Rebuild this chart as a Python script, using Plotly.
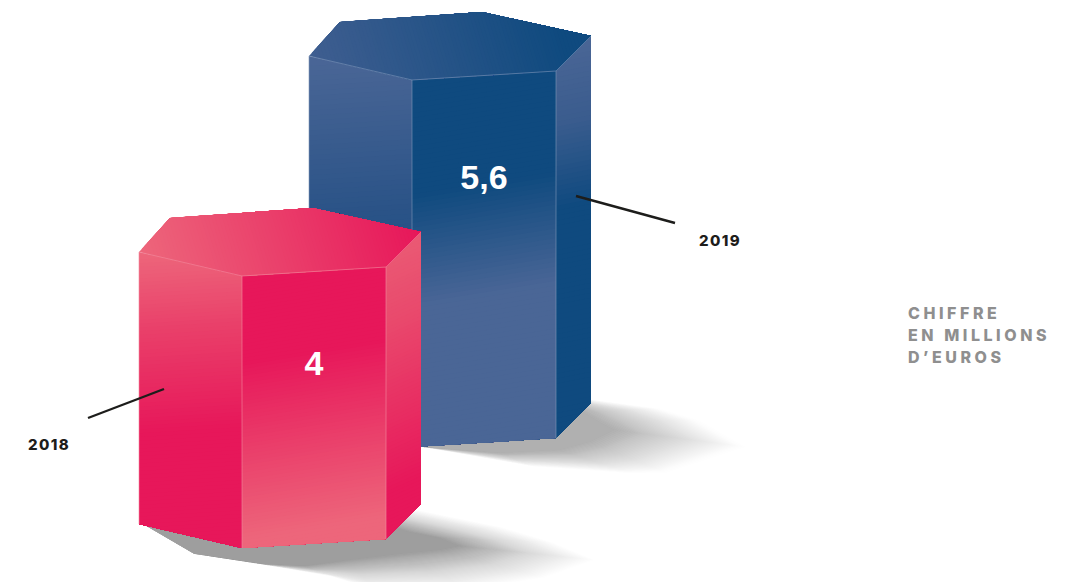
import plotly.graph_objects as go

# Chart data
years = ["2018", "2019"]
revenue = [4, 5.6]
unit_title = ["CHIFFRE", "EN MILLIONS", "D’EUROS"]

# Linear height scale shared by both columns
PX_PER_UNIT = 59.375
BASE_VALUE = -0.581
ZERO_PX = 513.5
WIDTH, HEIGHT = 1080, 582

PINK_LIGHT, PINK_MID, PINK = "#ED667B", "#E93E69", "#E7175A"
BLUE_LIGHT, BLUE_MID, BLUE = "#4A6696", "#2A5387", "#0F4A7F"

# Hexagonal footprint: offsets of the other corners from the front-left one
A, B, C, D, E = (-103, 24), (-72, 58), (70, 68), (179, 44), (144, 9)

# Placement and styling of each column
front_x = [242, 412]
lift_px = [0, 101]
label_drop_px = [90, 100]
edge_colour = ["#F48CA0", "#7F97BB"]

ramps = [
    {
        "top": ((1, 0.3), [(0, PINK_LIGHT), (1, PINK)]),
        "left": ((0.06, -1), [(0, PINK_LIGHT), (0.27, PINK_MID), (0.6, PINK), (1, PINK)]),
        "front": ((0.16, -1), [(0, PINK), (0.3, PINK), (0.93, PINK_LIGHT), (1, PINK_LIGHT)]),
        "right": ((0.4, -0.9), [(0, "#EA5A74"), (0.25, "#E94A6D"), (0.85, PINK), (1, PINK)]),
    },
    {
        "top": ((1, 0.3), [(0, "#3F5E90"), (0.9, BLUE), (1, BLUE)]),
        "left": ((0.06, -1), [(0, BLUE_LIGHT), (0.4, BLUE_MID), (1, BLUE)]),
        "front": ((0.16, -1), [(0, BLUE), (0.3, BLUE), (0.6, BLUE_LIGHT), (1, BLUE_LIGHT)]),
        "right": ((0.2, -1), [(0, BLUE_LIGHT), (0.2, "#3A5C8E"), (0.42, BLUE), (1, BLUE)]),
    },
]

# Ground shadows: outer outline and darker core with matching vertices
shadows = [
    {
        "outer": [(146, 526), (194, 554), (270, 566), (333, 577), (373, 590), (470, 590), (545, 578),
                  (596, 560), (553, 542), (503, 527), (420, 510), (330, 505)],
        "core": [(146, 526), (194, 554), (262, 564), (305, 566), (350, 560), (400, 554), (440, 550),
                 (460, 546), (440, 538), (410, 532), (385, 525), (330, 505)],
        "alpha": 0.43,
    },
    {
        "outer": [(421, 447), (533, 467), (633, 474), (667, 473), (747, 447), (700, 420),
                  (660, 408), (592, 399), (540, 400)],
        "core": [(421, 447), (500, 453), (560, 450), (590, 442), (615, 430), (600, 422),
                 (585, 413), (575, 406), (540, 400)],
        "alpha": 0.35,
    },
]

leader_x = [[88, 164], [576, 675]]
leader_px = [[418, 389], [196, 223]]
year_pos = [(49, 446), (720, 242)]
unit_x = 908
unit_px = [315, 337, 359]


def axis_y(px):
    """Convert a vertical screen offset to the value axis."""
    return (ZERO_PX - px) / PX_PER_UNIT


def clip(poly, nx, ny, level):
    """Keep the part of a polygon whose projection on (nx, ny) is at least level."""
    out = []
    for i, (x0, y0) in enumerate(poly):
        x1, y1 = poly[(i + 1) % len(poly)]
        d0 = x0 * nx + y0 * PX_PER_UNIT * ny - level
        d1 = x1 * nx + y1 * PX_PER_UNIT * ny - level
        if d0 >= 0:
            out.append((x0, y0))
        if (d0 >= 0) != (d1 >= 0):
            t = d0 / (d0 - d1)
            out.append((x0 + t * (x1 - x0), y0 + t * (y1 - y0)))
    return out


def mix(stops, t):
    for (t0, c0), (t1, c1) in zip(stops, stops[1:]):
        if t <= t1:
            u = 0 if t1 == t0 else (t - t0) / (t1 - t0)
            a = [int(c0[i:i + 2], 16) for i in (1, 3, 5)]
            b = [int(c1[i:i + 2], 16) for i in (1, 3, 5)]
            return "rgb({},{},{})".format(*[round(p + (q - p) * u) for p, q in zip(a, b)])
    return stops[-1][1]


def add_poly(fig, poly, colour):
    xs, ys = zip(*poly)
    fig.add_trace(go.Scatter(x=list(xs) + [xs[0]], y=list(ys) + [ys[0]], mode="lines",
                             line=dict(width=0), fill="toself", fillcolor=colour,
                             hoverinfo="skip", showlegend=False))


def shade_face(fig, poly, ramp, bands=80):
    """Paint a face with a slanted colour ramp as overlapping bands."""
    (nx, ny), stops = ramp
    proj = [x * nx + y * PX_PER_UNIT * ny for x, y in poly]
    low, high = min(proj), max(proj)
    for i in range(bands):
        t = i / (bands - 1)
        part = clip(poly, nx, ny, low + (high - low) * i / bands)
        if len(part) >= 3:
            add_poly(fig, part, mix(stops, t))


def add_edge(fig, a, b, colour, width=0.6):
    fig.add_trace(go.Scatter(x=[a[0], b[0]], y=[a[1], b[1]], mode="lines",
                             line=dict(color=colour, width=width),
                             hoverinfo="skip", showlegend=False))


def add_shadow(fig, shadow, layers=40):
    previous = 0.0
    for i in range(layers):
        u = i / (layers - 1)
        # Opacity builds up slowly at the rim, so the outline melts into the page
        target = shadow["alpha"] * ((i + 1) / layers) ** 1.25
        step = 1 - (1 - target) / (1 - previous)
        previous = target
        poly = [(ox + (cx - ox) * u, axis_y(oy + (cy - oy) * u))
                for (ox, oy), (cx, cy) in zip(shadow["outer"], shadow["core"])]
        add_poly(fig, poly, f"rgba(60,60,60,{step:.4f})")


def add_column(fig, i):
    lift = lift_px[i] / PX_PER_UNIT
    top = revenue[i] + lift
    base = BASE_VALUE + lift
    fx = front_x[i]

    def corner(offset, level):
        return (fx + offset[0], level + offset[1] / PX_PER_UNIT)

    F_t, F_b = (fx, top), (fx, base)
    A_t, A_b = corner(A, top), corner(A, base)
    B_t, C_t = corner(B, top), corner(C, top)
    D_t, D_b = corner(D, top), corner(D, base)
    E_t, E_b = corner(E, top), corner(E, base)

    shade_face(fig, [A_t, F_t, F_b, A_b], ramps[i]["left"])
    shade_face(fig, [F_t, E_t, E_b, F_b], ramps[i]["front"])
    shade_face(fig, [E_t, D_t, D_b, E_b], ramps[i]["right"])
    shade_face(fig, [A_t, B_t, C_t, D_t, E_t, F_t], ramps[i]["top"])

    for a, b in [(A_t, F_t), (F_t, E_t), (E_t, D_t), (F_t, F_b), (E_t, E_b), (A_t, A_b)]:
        add_edge(fig, a, b, edge_colour[i])


fig = go.Figure()

for shadow in shadows:
    add_shadow(fig, shadow)

# The later year stands behind, so it is drawn first
for i in (1, 0):
    add_column(fig, i)

for xs, pys in zip(leader_x, leader_px):
    fig.add_trace(go.Scatter(x=xs, y=[axis_y(p) for p in pys], mode="lines",
                             line=dict(color="#1D1D1B", width=2.4),
                             hoverinfo="skip", showlegend=False))

# Value printed on each front face
for i, v in enumerate(revenue):
    centre_x = front_x[i] + E[0] / 2
    centre_y = axis_y(ZERO_PX - (v + lift_px[i] / PX_PER_UNIT) * PX_PER_UNIT + label_drop_px[i])
    fig.add_trace(go.Scatter(x=[centre_x], y=[centre_y], mode="text",
                             text=[f"{v:g}".replace(".", ",")], textposition="middle center",
                             textfont=dict(family="Liberation Sans", size=34, color="white", weight=700),
                             cliponaxis=False, hoverinfo="skip", showlegend=False))

for year, (x, py) in zip(years, year_pos):
    fig.add_trace(go.Scatter(x=[x], y=[axis_y(py)], mode="text", text=[year],
                             textposition="middle center",
                             textfont=dict(family="Inter", size=15, color="#1D1D1B", weight=800),
                             cliponaxis=False, hoverinfo="skip", showlegend=False))

fig.add_trace(go.Scatter(x=[unit_x] * 3, y=[axis_y(p) for p in unit_px], mode="text", text=unit_title,
                         textposition="middle right",
                         textfont=dict(family="Inter", size=16, color="#8F8F8F", weight=800),
                         cliponaxis=False, hoverinfo="skip", showlegend=False))

fig.update_layout(
    width=WIDTH, height=HEIGHT, autosize=False,
    margin=dict(l=0, r=0, t=0, b=0, pad=0),
    paper_bgcolor="white", plot_bgcolor="white", showlegend=False,
    xaxis=dict(range=[0, WIDTH], visible=False, fixedrange=True),
    yaxis=dict(range=[axis_y(HEIGHT), axis_y(0)], visible=False, fixedrange=True),
)

# Tracked-out captions
tracking = """
var gd = document.getElementById('{plot_id}');
gd.querySelectorAll('.textpoint text').forEach(function (t) {
  var s = t.textContent;
  if (/^20/.test(s)) { t.style.letterSpacing = '1.4px'; }
  else if (/[A-Z]/.test(s)) { t.style.letterSpacing = '3.55px'; }
});
"""
fig.write_html("out.html", post_script=tracking, config={"displayModeBar": False})
